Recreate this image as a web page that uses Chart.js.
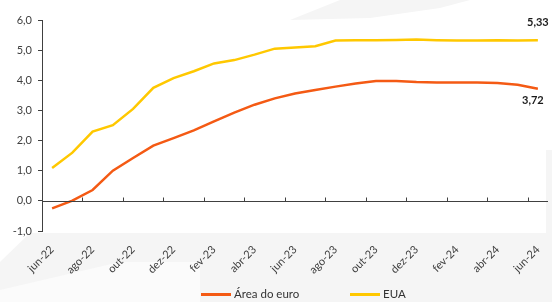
<!DOCTYPE html>
<html>
<head>
<meta charset="utf-8">
<script src="https://cdn.jsdelivr.net/npm/chart.js@4/dist/chart.umd.min.js"></script>
<style>
  html, body { margin: 0; padding: 0; background: #fff; }
  #wrap { position: relative; width: 552px; height: 302px; overflow: hidden; }
  #c { position: absolute; left: 0; top: 0; }
  #legend { position: absolute; left: 0; top: 285px; width: 552px; height: 17px; font-family: Lato, "Open Sans", sans-serif; font-size: 11.5px; color: #333; }
  .item { position: absolute; top: 0; height: 17px; line-height: 17px; white-space: nowrap; }
  .swatch { position: absolute; top: 8px; width: 30px; height: 2.5px; }
  .txt { position: absolute; top: 0; }
</style>
</head>
<body>
<div id="wrap">
  <canvas id="c" width="552" height="302"></canvas>
  <div id="legend"></div>
</div>
<script>
const categories = ['jun-22','jul-22','ago-22','set-22','out-22','nov-22','dez-22','jan-23','fev-23','mar-23','abr-23','mai-23','jun-23','jul-23','ago-23','set-23','out-23','nov-23','dez-23','jan-24','fev-24','mar-24','abr-24','mai-24','jun-24'];
const seriesNames = ['Área do euro', 'EUA'];
const areaEuro = [-0.25, 0.01, 0.36, 1.00, 1.42, 1.83, 2.08, 2.34, 2.64, 2.93, 3.19, 3.40, 3.56, 3.68, 3.79, 3.89, 3.98, 3.98, 3.94, 3.93, 3.93, 3.93, 3.91, 3.85, 3.72];
const eua = [1.09, 1.60, 2.30, 2.51, 3.05, 3.75, 4.07, 4.30, 4.56, 4.67, 4.85, 5.05, 5.09, 5.13, 5.32, 5.33, 5.33, 5.34, 5.35, 5.33, 5.32, 5.32, 5.33, 5.32, 5.33];
const yTicks = [-1, 0, 1, 2, 3, 4, 5, 6];

const orange = '#F45A14';
const yellow = '#FFC800';
const axisColor = '#404040';
const fontFam = 'Lato, "Open Sans", sans-serif';

const fmt = v => v.toFixed(v === Math.round(v) ? 1 : 2).replace('.', ',');

const bgPlugin = {
  id: 'bg',
  beforeDraw(chart) {
    const ctx = chart.ctx;
    ctx.save();
    ctx.fillStyle = '#fff';
    ctx.fillRect(0, 0, chart.width, chart.height);
    ctx.fillStyle = '#f5f5f5';
    ctx.beginPath();
    ctx.moveTo(30, 233); ctx.lineTo(552, 233); ctx.lineTo(552, 302); ctx.lineTo(0, 302); ctx.lineTo(0, 262);
    ctx.closePath(); ctx.fill();
    ctx.beginPath();
    ctx.moveTo(290, 20); ctx.lineTo(370, 18); ctx.lineTo(440, 8); ctx.lineTo(470, 0); ctx.lineTo(340, 0);
    ctx.closePath(); ctx.fill();
    ctx.fillRect(546, 150, 6, 83);
    ctx.fillStyle = '#fbfbfb';
    ctx.beginPath();
    ctx.moveTo(0, 290); ctx.lineTo(120, 262); ctx.lineTo(200, 262); ctx.lineTo(200, 302); ctx.lineTo(0, 302);
    ctx.closePath(); ctx.fill();
    ctx.restore();
  }
};

const axisPlugin = {
  id: 'zeroAxis',
  afterDatasetsDraw(chart) {
    const ctx = chart.ctx;
    const xs = chart.scales.x, ys = chart.scales.y;
    const y0 = Math.round(ys.getPixelForValue(0)) + 0.5;
    ctx.save();
    ctx.strokeStyle = axisColor;
    ctx.lineWidth = 1;
    ctx.beginPath();
    ctx.moveTo(chart.chartArea.left, y0);
    ctx.lineTo(chart.chartArea.right, y0);
    for (let i = 2; i < categories.length; i += 2) {
      const bx = Math.round((xs.getPixelForValue(i - 1) + xs.getPixelForValue(i)) / 2) + 0.5;
      ctx.moveTo(bx, y0);
      ctx.lineTo(bx, y0 - 4);
    }
    ctx.stroke();
    ctx.font = 'bold 11px ' + fontFam;
    ctx.fillStyle = '#1a1a1a';
    ctx.textAlign = 'center';
    ctx.textBaseline = 'middle';
    const metaE = chart.getDatasetMeta(0), metaU = chart.getDatasetMeta(1);
    const pe = metaE.data[metaE.data.length - 1];
    const pu = metaU.data[metaU.data.length - 1];
    ctx.fillText(fmt(eua[eua.length - 1]), pu.x, pu.y - 18);
    ctx.fillText(fmt(areaEuro[areaEuro.length - 1]), pe.x - 5, pe.y + 12);
    ctx.restore();
  }
};

new Chart(document.getElementById('c'), {
  type: 'line',
  data: {
    labels: categories,
    datasets: [
      { label: seriesNames[0], data: areaEuro, borderColor: orange, backgroundColor: orange, borderWidth: 2.5, pointRadius: 0, tension: 0 },
      { label: seriesNames[1], data: eua, borderColor: yellow, backgroundColor: yellow, borderWidth: 2.5, pointRadius: 0, tension: 0 }
    ]
  },
  options: {
    responsive: false,
    animation: false,
    devicePixelRatio: 1,
    layout: { padding: { top: 20, right: 4, left: 0, bottom: 21 } },
    plugins: { legend: { display: false }, tooltip: { enabled: false } },
    scales: {
      x: {
        type: 'category',
        offset: true,
        grid: { display: false },
        border: { display: false },
        ticks: {
          autoSkip: false,
          minRotation: 45, maxRotation: 45,
          padding: 4,
          color: axisColor,
          font: { family: fontFam, size: 11 },
          callback: (v, i) => (i % 2 === 0 ? categories[i] : '')
        },
        afterFit: s => { s.height = 50; }
      },
      y: {
        min: yTicks[0], max: yTicks[yTicks.length - 1],
        afterBuildTicks: s => { s.ticks = yTicks.map(v => ({ value: v })); },
        grid: { drawOnChartArea: false, drawTicks: true, tickLength: 4, color: axisColor },
        border: { display: true, color: axisColor, width: 1 },
        ticks: {
          padding: 6,
          color: axisColor,
          font: { family: fontFam, size: 11 },
          callback: v => Number(v).toFixed(1).replace('.', ',')
        },
        afterFit: s => { s.width = 42; }
      }
    }
  },
  plugins: [bgPlugin, axisPlugin]
});

const legend = document.getElementById('legend');
const legendItems = [
  { name: seriesNames[0], color: orange, left: 201 },
  { name: seriesNames[1], color: yellow, left: 350 }
];
legendItems.forEach(it => {
  const d = document.createElement('div');
  d.className = 'item';
  d.style.left = it.left + 'px';
  const sw = document.createElement('div');
  sw.className = 'swatch';
  sw.style.left = '0px';
  sw.style.background = it.color;
  const t = document.createElement('span');
  t.className = 'txt';
  t.style.left = '33px';
  t.textContent = it.name;
  d.appendChild(sw); d.appendChild(t);
  legend.appendChild(d);
});
</script>
</body>
</html>
